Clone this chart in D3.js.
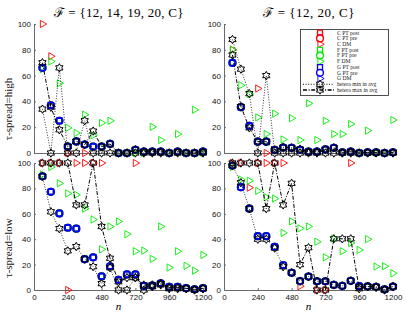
<!DOCTYPE html>
<html><head><meta charset="utf-8">
<script src="https://cdn.jsdelivr.net/npm/d3@7"></script>
<style>body{margin:0;background:#fff}svg{display:block}</style>
</head><body><svg id="c" width="407" height="314"></svg>
<script>
// ---------- data ----------
const nValues = [60,120,180,240,300,360,420,480,540,600,660,720,780,840,900,960,1020,1080,1140,1200];
const xTicks = [0,240,480,720,960,1200];
const yTicks = [0,20,40,60,80,100];
const titles = ["ℱ = {12, 14, 19, 20, C}", "ℱ = {12, 20, C}"];
const rowLabels = ["τ-spread=high", "τ-spread=low"];
const xLabel = "n";
const legendLabels = ["C PT post","C PT pre","C DM","F PT post","F PT pre","F DM","G PT post","G PT pre","G DM","hetero min in avg","hetero max in avg"];

// tau-spread = high, F = {12,14,19,20,C}
const ptHighA  = [66,37,25,5,9,6.5,5,5,7,0,0,2.5,1,1,1,0,1,0,0,1];
const cDmHighA = [100,75,null,0,null,0,null,null,null,null,null,null,null,null,null,null,null,null,null,null];
const fDmHighA = [65,71,54,19.5,15.5,29.7,13.7,23.3,25,0,0,0,0,20.3,10,0,14.7,0,33.5,0];
const minHighA = [34,0,66,0,0,25,0,0,0,0,0,0,0,0,0,0,0,0,0,0];
const maxHighA = [70,35.5,18,5,9,6.5,17,5,7,0,0,2.5,1,1,1,0,1,0,0,1];

// tau-spread = high, F = {12,20,C}
const ptHighB  = [69.8,35.5,21,8.8,8.8,2.4,4.2,4,2.5,1,1,2.8,4,0.5,1,0,0.5,0.5,0,0.5];
const cDmHighB = [80,null,null,50,0,null,null,null,null,null,null,null,null,null,null,null,null,null,null,null];
const fDmHighB = [80,52.5,45.7,27.6,14.7,30.5,10.5,27,10,38.5,10,25,14.7,14.7,22.5,0,17.3,0,0,25.6];
const minHighB = [88,65,46,0,60,0,0,0,0,0,0,0,0,0,0,0,0,0,0,0];
const maxHighB = [76,36,19.5,8.8,8.8,2.3,4.4,4,3,1,1,2.8,4,0.5,1,0,0.5,0.5,0,0.5];

// tau-spread = low, F = {12,14,19,20,C}
const ptLowA  = [89.5,77.3,60.3,49,48.3,24.3,25.7,10.8,18.7,8,12.3,12.3,3.2,3.5,5.3,2.4,2.4,1.4,0.6,1.4];
const cDmLowA = [100,100,100,0,100,100,100,100,null,null,null,100,null,null,null,null,null,null,null,null];
const fDmLowA = [91,96.8,84,76,75,64,55.5,32,50,54,44,30.5,31,24.5,50,17.7,30.5,19,15.2,27.6];
const minLowA = [89.5,61.6,48.3,30.8,34.2,24.3,18.4,5,17.5,0,0,9.7,0,2.6,4,1,1,1,0,1];
const maxLowA = [100,100,100,100,67,67,100,50,25,6.5,9.7,9.7,3.9,4,5,2,2,1.3,0.5,1.3];

// tau-spread = low, F = {12,20,C}
const ptLowB  = [98,81,64,42.4,42.4,34,19.6,13.6,7,10.6,6.9,6.9,4,3.2,7.2,3,2.8,2.5,0.5,2.7];
const cDmLowB = [100,100,80.6,100,100,100,100,null,3,null,0,0,null,null,100,null,null,null,null,null];
const fDmLowB = [97,87,86,78,73,72,45,54,48.5,50,38,25.7,40.5,30.5,37,31.5,40,18.5,18.7,13.2];
const minLowB = [98,84.5,64,40,40,33,18.3,13.6,7,10.6,6.9,6.9,4,3.2,7.2,2.6,2.6,2,0,2.6];
const maxLowB = [100,100,100,100,64,100,67,84,20,33.3,0,0,40.3,40.3,40.3,1,2.8,2.5,0.5,2.7];

// G DM markers are not visible anywhere in the figure
const gDmHidden = [null,null,null,null,null,null,null,null,null,null,null,null,null,null,null,null,null,null,null,null];

// ---------- drawing ----------
const svg = d3.select("#c");
const RED = "#ff0000", GREEN = "#00ee00", BLUE = "#0000ff", BLACK = "#000";

function squarePath(h){ return `M${-h},${-h}H${h}V${h}H${-h}Z`; }
function triPath(r){ return `M${r},0L${-r/2},${-r*0.866}L${-r/2},${r*0.866}Z`; }
function hexPath(r){
  const pts = [];
  for (let k = 0; k < 12; k++) {
    const a = -Math.PI/2 + k*Math.PI/6;
    const rr = k % 2 === 0 ? r : r/Math.sqrt(3);
    pts.push([rr*Math.cos(a), rr*Math.sin(a)]);
  }
  return "M" + pts.map(p => p[0].toFixed(2)+","+p[1].toFixed(2)).join("L") + "Z";
}

const markerStyles = {
  square: {d: squarePath(2.5), sw: 1.3},
  circle: {r: 3.4, sw: 1.4},
  tri:    {d: triPath(4.2), sw: 0.9},
  hex:    {d: hexPath(4.2), sw: 1.0}
};

function drawMarker(g, type, color, x, y){
  const st = markerStyles[type];
  if (type === "circle") {
    g.append("circle").attr("cx", x).attr("cy", y).attr("r", st.r)
      .attr("fill","none").attr("stroke", color).attr("stroke-width", st.sw);
  } else {
    g.append("path").attr("d", st.d).attr("transform", `translate(${x},${y})`)
      .attr("fill","none").attr("stroke", color).attr("stroke-width", st.sw)
      .attr("stroke-linejoin","miter");
  }
}

const seriesDefs = [
  {name: legendLabels[0], key:"pt",  type:"square", color:RED},
  {name: legendLabels[1], key:"pt",  type:"circle", color:RED},
  {name: legendLabels[2], key:"cDm", type:"tri",    color:RED},
  {name: legendLabels[3], key:"pt",  type:"square", color:GREEN},
  {name: legendLabels[4], key:"pt",  type:"circle", color:GREEN},
  {name: legendLabels[5], key:"fDm", type:"tri",    color:GREEN},
  {name: legendLabels[6], key:"pt",  type:"square", color:BLUE},
  {name: legendLabels[7], key:"pt",  type:"circle", color:BLUE},
  {name: legendLabels[8], key:"gDm", type:"tri",    color:BLUE},
  {name: legendLabels[9], key:"mn",  type:"hex",    color:BLACK, dash:"1,1.6", lw:0.8},
  {name: legendLabels[10],key:"mx",  type:"hex",    color:BLACK, dash:"4,1.6,1,1.6", lw:1.0}
];

const panels = [
  {x0:34,  x1:203, yTop:24,  yBot:153, pt:ptHighA, cDm:cDmHighA, fDm:fDmHighA, gDm:gDmHidden, mn:minHighA, mx:maxHighA, title:titles[0], titleLen:130, xLabels:false, legend:false},
  {x0:224, x1:393, yTop:24,  yBot:153, pt:ptHighB, cDm:cDmHighB, fDm:fDmHighB, gDm:gDmHidden, mn:minHighB, mx:maxHighB, title:titles[1], titleLen:92, xLabels:false, legend:true},
  {x0:34,  x1:203, yTop:163, yBot:290, pt:ptLowA,  cDm:cDmLowA,  fDm:fDmLowA,  gDm:gDmHidden, mn:minLowA,  mx:maxLowA,  title:null, xLabels:true, legend:false},
  {x0:224, x1:393, yTop:163, yBot:290, pt:ptLowB,  cDm:cDmLowB,  fDm:fDmLowB,  gDm:gDmHidden, mn:minLowB,  mx:maxLowB,  title:null, xLabels:true, legend:false}
];

const tickFont = "'Liberation Sans', Arial, sans-serif";
const serif = "'Liberation Serif', 'Times New Roman', serif";

panels.forEach(p => {
  const x = d3.scaleLinear().domain([0,1200]).range([p.x0, p.x1]);
  const y = d3.scaleLinear().domain([0,100]).range([p.yBot, p.yTop]);
  const g = svg.append("g");

  // axes
  const ya = g.append("g").attr("transform", `translate(${p.x0},0)`)
    .call(d3.axisLeft(y).tickValues(yTicks).tickSizeInner(-2).tickSizeOuter(0).tickPadding(3));
  const xa = g.append("g").attr("transform", `translate(0,${p.yBot})`)
    .call(d3.axisBottom(x).tickValues(xTicks).tickSizeInner(-2).tickSizeOuter(0).tickPadding(4)
      .tickFormat(p.xLabels ? d3.format("d") : () => ""));
  [ya, xa].forEach(a => {
    a.select(".domain").attr("stroke", "#6a6a6a").attr("stroke-width", 1);
    a.selectAll(".tick line").attr("stroke", "#6a6a6a");
    a.selectAll(".tick text").attr("font-family", tickFont).attr("font-size", 8).attr("fill", "#111");
  });

  // series
  seriesDefs.forEach(s => {
    const vals = p[s.key];
    const pts = nValues.map((n,i) => [n, vals[i]]);
    const sg = g.append("g");
    if (s.dash) {
      sg.append("path")
        .attr("d", d3.line().defined(d => d[1] != null).x(d => x(d[0])).y(d => y(d[1]))(pts))
        .attr("fill","none").attr("stroke", s.color).attr("stroke-width", s.lw)
        .attr("stroke-dasharray", s.dash);
    }
    pts.forEach(d => { if (d[1] != null) drawMarker(sg, s.type, s.color, x(d[0]), y(d[1])); });
  });

  // title
  if (p.title) {
    svg.append("text").attr("x", (p.x0+p.x1)/2).attr("y", 16.5)
      .attr("text-anchor","middle").attr("font-family", serif).attr("font-size", 13)
      .attr("textLength", p.titleLen).attr("lengthAdjust", "spacing")
      .text(p.title);
  }
  if (p.xLabels) {
    svg.append("text").attr("x", (p.x0+p.x1)/2).attr("y", 310)
      .attr("text-anchor","middle").attr("font-family", serif).attr("font-style","italic")
      .attr("font-size", 11).text(xLabel);
  }

  // legend
  if (p.legend) {
    const lg = svg.append("g");
    lg.append("rect").attr("x", 300.5).attr("y", 29.5).attr("width", 88).attr("height", 66)
      .attr("fill","#fff").attr("stroke","#222").attr("stroke-width", 0.8);
    seriesDefs.forEach((s,i) => {
      const yy = 32.7 + i*5.73;
      if (s.dash) {
        lg.append("line").attr("x1", 303).attr("x2", 334).attr("y1", yy).attr("y2", yy)
          .attr("stroke", s.color).attr("stroke-width", s.lw + 0.3).attr("stroke-dasharray", s.dash);
      }
      drawMarker(lg, s.type, s.color, 320, yy);
      lg.append("text").attr("x", 337).attr("y", yy).attr("dy","0.33em")
        .attr("font-family", serif).attr("font-size", 5.6).attr("fill","#222").text(s.name);
    });
  }
});

// row labels (rotated)
[[8, 109, rowLabels[0]], [8, 248, rowLabels[1]]].forEach(([lx, ly, t]) => {
  svg.append("text").attr("transform", `translate(${lx},${ly}) rotate(-90)`)
    .attr("text-anchor","middle").attr("dy","0.35em")
    .attr("font-family", serif).attr("font-size", 11).attr("fill","#111").text(t);
});
</script>
</body></html>
